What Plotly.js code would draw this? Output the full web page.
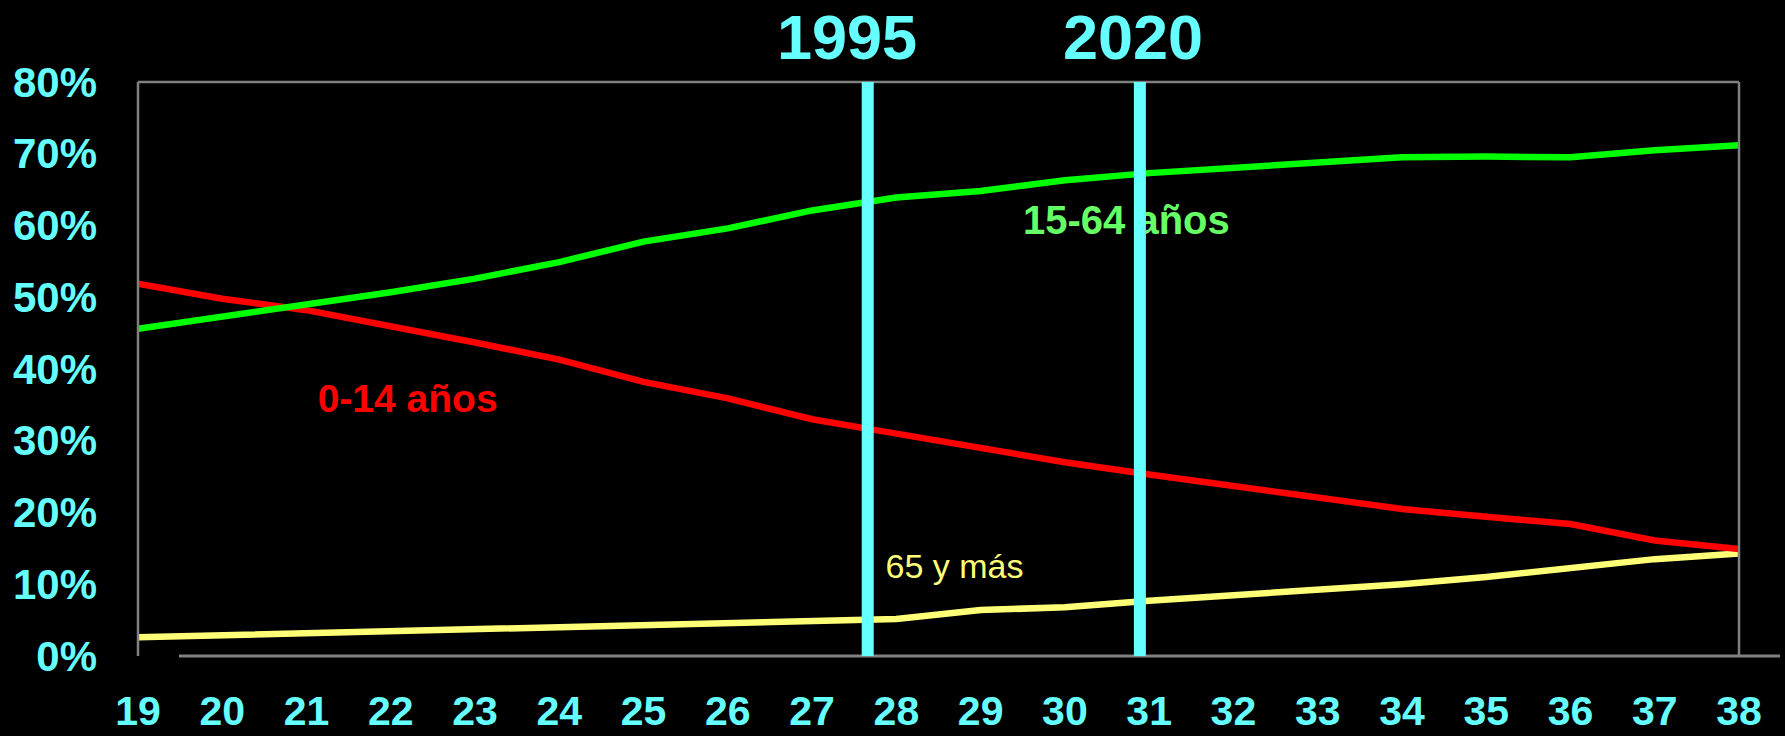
<!DOCTYPE html>
<html>
<head>
<meta charset="utf-8">
<script src="https://cdn.plot.ly/plotly-3.0.1.min.js"></script>
<style>
  html, body { margin: 0; padding: 0; background: #000; }
  #chart { width: 1785px; height: 736px; }
</style>
</head>
<body>
<div id="chart"></div>
<script>
// ---- data ----
const periods = [19, 20, 21, 22, 23, 24, 25, 26, 27, 28, 29, 30, 31, 32, 33, 34, 35, 36, 37, 38];
const periodLabels = ['19', '20', '21', '22', '23', '24', '25', '26', '27', '28', '29', '30', '31', '32', '33', '34', '35', '36', '37', '38'];

const age0to14 = [0.519, 0.498, 0.482, 0.460, 0.437, 0.413, 0.382, 0.359, 0.330, 0.310,
                  0.289, 0.270, 0.253, 0.237, 0.221, 0.205, 0.194, 0.184, 0.161, 0.149];
const age15to64 = [0.456, 0.473, 0.488, 0.507, 0.526, 0.549, 0.5775, 0.596, 0.621, 0.639,
                   0.648, 0.663, 0.673, 0.681, 0.6875, 0.695, 0.696, 0.695, 0.705, 0.712];
const age65plus = [0.026, 0.029, 0.032, 0.035, 0.038, 0.040, 0.043, 0.046, 0.050, 0.0515,
                   0.064, 0.068, 0.077, 0.084, 0.093, 0.100, 0.110, 0.122, 0.135, 0.143];

const yTickVals = [0, 0.1, 0.2, 0.3, 0.4, 0.5, 0.6, 0.7, 0.8];
const yTickLabels = ['0%', '10%', '20%', '30%', '40%', '50%', '60%', '70%', '80%'];

const markerYearsX = [27.66, 30.89];
const markerYearLabels = ['1995', '2020'];
const markerYearLabelX = [27.41, 30.81];

const seriesLabels = ['0-14 años', '15-64 años', '65 y más'];
const seriesLabelX = [22.2, 30.73, 28.69];
const seriesLabelY = [0.354, 0.602, 0.121];

// ---- styling ----
const CYAN = '#66FFFF';
const FONT = 'Liberation Sans, Arial, Helvetica, sans-serif';
const FRAME = '#808080';

const traces = [
  { x: periods, y: age65plus, type: 'scatter', mode: 'lines',
    line: { color: '#FFFF77', width: 6.5 }, hoverinfo: 'skip', showlegend: false },
  { x: periods, y: age0to14, type: 'scatter', mode: 'lines',
    line: { color: '#FF0000', width: 6.5 }, hoverinfo: 'skip', showlegend: false },
  { x: periods, y: age15to64, type: 'scatter', mode: 'lines',
    line: { color: '#00FF00', width: 6.5 }, hoverinfo: 'skip', showlegend: false },
  { x: seriesLabelX, y: seriesLabelY, type: 'scatter', mode: 'text',
    text: seriesLabels, textposition: 'middle center',
    textfont: { family: FONT, size: [39, 40, 34], color: ['#FF0000', '#66FF66', '#FFFF77'],
                weight: ['bold', 'bold', 'normal'] },
    hoverinfo: 'skip', showlegend: false, cliponaxis: false }
];

const shapes = [
  // frame: left, top, right
  { type: 'line', xref: 'paper', yref: 'paper', x0: 0, x1: 0, y0: 0, y1: 1, line: { color: FRAME, width: 2.5 } },
  { type: 'line', xref: 'paper', yref: 'paper', x0: 0, x1: 1, y0: 1, y1: 1, line: { color: FRAME, width: 2.5 } },
  { type: 'line', xref: 'paper', yref: 'paper', x0: 1, x1: 1, y0: 0, y1: 1, line: { color: FRAME, width: 2.5 } },
  // bottom axis line (offset to the right in the reference)
  { type: 'line', xref: 'paper', yref: 'paper', x0: 0.0256, x1: 1.0256, y0: 0, y1: 0, line: { color: FRAME, width: 3 } }
];
markerYearsX.forEach(function (xv) {
  shapes.push({ type: 'line', xref: 'x', yref: 'paper', x0: xv, x1: xv, y0: 0, y1: 1,
                layer: 'above', line: { color: CYAN, width: 12 } });
});

const annotations = markerYearLabels.map(function (t, i) {
  return { text: t, x: markerYearLabelX[i], xref: 'x', y: 1.079, yref: 'paper',
           xanchor: 'center', yanchor: 'middle', showarrow: false,
           font: { family: FONT, size: 63, color: CYAN, weight: 'bold' } };
});

const layout = {
  width: 1785, height: 736,
  margin: { l: 138, r: 46, t: 82, b: 80 },
  paper_bgcolor: '#000000', plot_bgcolor: '#000000',
  showlegend: false,
  xaxis: {
    type: 'linear', range: [19, 38], tickvals: periods, ticktext: periodLabels,
    showgrid: false, zeroline: false, showline: false, ticks: '',
    ticklabelstandoff: 27,
    tickfont: { family: FONT, size: 41, color: CYAN, weight: 'bold' }
  },
  yaxis: {
    range: [0, 0.8], tickvals: yTickVals, ticktext: yTickLabels,
    showgrid: false, zeroline: false, showline: false, ticks: '',
    ticklabelstandoff: 40,
    tickfont: { family: FONT, size: 42, color: CYAN, weight: 'bold' }
  },
  shapes: shapes,
  annotations: annotations
};

Plotly.newPlot('chart', traces, layout, { staticPlot: true, displayModeBar: false });
</script>
</body>
</html>
